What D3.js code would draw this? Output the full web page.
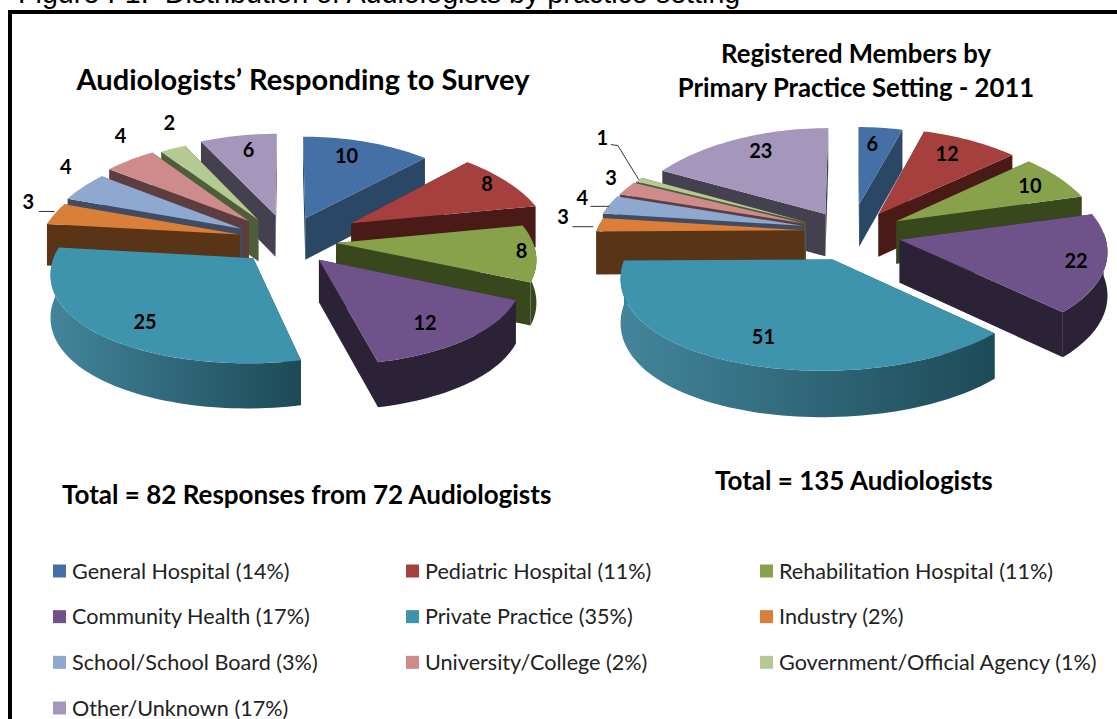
<!DOCTYPE html>
<html><head><meta charset="utf-8">
<style>html,body{margin:0;padding:0;background:#fff;overflow:hidden}svg{display:block}</style>
<script src="https://cdnjs.cloudflare.com/ajax/libs/d3/7.8.5/d3.min.js"></script>
</head><body><svg id="c" width="1117" height="719"></svg>
<script>
const categories = ["General Hospital","Pediatric Hospital","Rehabilitation Hospital","Community Health","Private Practice","Industry","School/School Board","University/College","Government/Official Agency","Other/Unknown"];
const surveyValues = [10,8,8,12,25,3,4,4,2,6];
const registeredValues = [6,12,10,22,51,3,4,3,1,23];
const legendShares = [14,11,11,17,35,2,3,2,1,17];
const topColors = ["#4470a6","#a5403e","#87a24a","#6f5289","#3f94ad","#d97f3a","#8fa8cf","#cd8c8b","#b5ca92","#a596bc"];
const wallColors = ["#2a4765","#4a1a17","#39471c","#2c2238","#1d4a57","#5a3416","#3f4c64","#5c3e3e","#4e5d3a","#45404f"];
const wallLight = ["#2a4765","#4a1a17","#39471c","#2c2238","#43859b","#5a3416","#3f4c64","#5c3e3e","#4e5d3a","#45404f"];

const pies = [
 {id:"a", values:surveyValues, cx:286, cy:240, rx:200, ry:94, ex:.239, ez:.254, depth:42,
  boost:[1,1.5,1.05,1.05,1,1,1,1,1,1],
  scale:[1,1,.98,.97,.97,1,1,1,1,1],
  shear:[0,0,0,0,0,0,0,0,0,0],
  nudgeX:[2,4,0,0,0,0,-3,-5,-4,0],
  nudgeY:[0,0,0,0,0,0,0,-2,0,-2],
  labelAngle:[18.3,59.3,95.4,143.3,217,287.8,305.4,323,335,348.4],
  labelRadius:[.785,.888,.912,.755,.766,1.194,1.243,1.303,1.33,.803],
  leader:[null,null,null,null,null,[10.5,9.6,0],null,null,null,null]},
 {id:"b", values:registeredValues, cx:850, cy:232, rx:208, ry:99, ex:.221, ez:.289, depth:43,
  boost:[1,1,1.1,1.1,1,1,1,1,1,1],
  scale:[.9,1,.99,.98,.96,1,1,1,1,1],
  shear:[0,0,0,-.06,-.03,0,0,0,0,0],
  nudgeX:[3,5,3,0,0,0,-3,-4,-4,-2],
  nudgeY:[0,6,4,0,0,0,0,2,3,6],
  labelAngle:[6.3,29.6,61.6,104.6,201.8,276.7,284.4,295.7,309.4,332.8],
  labelRadius:[.694,.784,.802,.831,.743,1.2,1.16,1.14,1.51,.804],
  leader:[null,null,null,null,null,[9.5,10,-6],[8,8,0],null,[8.5,7,0],null]}
];

const svg = d3.select("#c");
const defs = svg.append("defs");
const rad = d => d*Math.PI/180;
const perspX = 0.15, perspY = 0.10, perspDepth = 0.06;

function project(p, X, Z){
  return [p.cx + p.rx*X/(1+perspX*Z), p.cy - p.ry*Z/(1+perspY*Z), 1/(1+perspDepth*Z)];
}
const line = d3.line();
const arcAngles = (a0,a1) => {
  const n = Math.max(2, Math.ceil((a1-a0)/0.03));
  return d3.range(n+1).map(i => a0 + (a1-a0)*i/n);
};

function drawPie(p){
  const arcs = d3.pie().sort(null)(p.values);
  const items = arcs.map((a,i)=>{
    const mid=(a.startAngle+a.endAngle)/2;
    const b=p.boost[i];
    return {a,i,mid,ox:p.ex*b*Math.sin(mid),oz:p.ez*b*Math.cos(mid)};
  });
  const g = svg.append("g").attr("class","pie-"+p.id);
  const order = items.slice().sort((u,v)=>Math.cos(v.mid)-Math.cos(u.mid));
  const grad = wi => {
    const id=`w-${p.id}-${wi}`;
    const lg=defs.append("linearGradient").attr("id",id).attr("x1",0).attr("x2",1).attr("y1",0).attr("y2",0);
    lg.append("stop").attr("offset",0).attr("stop-color",wallLight[wi]);
    lg.append("stop").attr("offset",1).attr("stop-color",wallColors[wi]);
    return `url(#${id})`;
  };
  order.forEach(it=>{
    const {a,i,ox,oz}=it;
    const k=p.scale[i], sh=p.shear[i];
    const pt=(ang,r)=>{
      const dz=r*k*Math.cos(ang);
      const q=project(p,ox+r*k*Math.sin(ang)-sh*dz,oz+dz);
      return [q[0]+p.nudgeX[i],q[1]+p.nudgeY[i],q[2]];
    };
    const apex=pt(0,0);
    const down=q=>[q[0],q[1]+p.depth*q[2]];
    const xy=q=>[q[0],q[1]];
    [a.startAngle,a.endAngle].forEach(ang=>{
      const e=pt(ang,1);
      g.append("path").attr("d",line([apex,e,down(e),down(apex)].map(xy))+"Z").attr("fill",wallColors[i]);
    });
    const lo=Math.max(a.startAngle,rad(86)), hi=Math.min(a.endAngle,rad(274));
    if(hi>lo){
      const rim=arcAngles(lo,hi).map(t=>pt(t,1));
      const poly=rim.map(xy).concat(rim.slice().reverse().map(down));
      g.append("path").attr("d",line(poly)+"Z").attr("fill",grad(i));
    }
    const rimTop=arcAngles(a.startAngle,a.endAngle).map(t=>xy(pt(t,1)));
    g.append("path").attr("d",line([xy(apex)].concat(rimTop))+"Z").attr("fill",topColors[i]);
  });
  items.forEach(({i,ox,oz,mid})=>{
    const ang=rad(p.labelAngle[i]), r=p.labelRadius[i];
    const q=project(p,ox+r*Math.sin(ang),oz+r*Math.cos(ang));
    const lx=q[0]+p.nudgeX[i], ly=q[1]+p.nudgeY[i];
    const lead=p.leader[i];
    if(lead){
      const rim=project(p,ox+Math.sin(mid),oz+Math.cos(mid));
      const start=[lx+lead[0],ly+lead[1]];
      const pts = p.id==="b"&&i===8 ? [start,[start[0]+7,start[1]+1],[rim[0]+p.nudgeX[i],rim[1]+p.nudgeY[i]]] : [start,[rim[0]+lead[2]+p.nudgeX[i],start[1]]];
      g.append("path").attr("d",line(pts)).attr("fill","none").attr("stroke","#333").attr("stroke-width",1);
    }
    g.append("text").attr("x",lx).attr("y",ly).attr("dy","0.35em")
      .attr("text-anchor","middle").attr("font-family","Lato").attr("font-weight",700)
      .attr("font-size",20).attr("fill","#000").text(p.values[i]);
  });
}

svg.append("text").attr("x",18).attr("y",3).attr("font-family","Liberation Sans").attr("font-size",28.7).attr("fill","#000")
  .text("Figure I-1:  Distribution of Audiologists by practice setting").style("white-space","pre");
svg.append("path").attr("d","M10,719V12H1117").attr("fill","none").attr("stroke","#000").attr("stroke-width",4);

pies.forEach(drawPie);

const bold=(x,y,t,size,anchor)=>svg.append("text").attr("x",x).attr("y",y).attr("dy","0.35em").attr("text-anchor",anchor||"middle")
  .attr("font-family","Lato").attr("font-weight",700).attr("font-size",size).attr("fill","#000").text(t);
bold(303,80,"Audiologists’ Responding to Survey",29);
bold(856,54,"Registered Members by",25.7);
bold(856,88,"Primary Practice Setting - 2011",25.7);
bold(62,495,"Total = 82 Responses from 72 Audiologists",26,"start");
bold(715,481,"Total = 135 Audiologists",26,"start");

const colX=d3.scaleOrdinal().domain([0,1,2]).range([53,406,760]);
const rowY=d3.scalePoint().domain([0,1,2,3]).range([571,708]);
const leg=svg.append("g").selectAll("g").data(categories).join("g")
  .attr("transform",(d,i)=>`translate(${colX(i%3)},${rowY(Math.floor(i/3))})`);
leg.append("rect").attr("x",0).attr("y",-6.5).attr("width",13).attr("height",13).attr("fill",(d,i)=>topColors[i]);
leg.append("text").attr("x",19).attr("dy","0.35em").attr("font-family","Lato").attr("font-size",21.6).attr("fill","#222")
  .text((d,i)=>`${d} (${legendShares[i]}%)`);
</script></body></html>
